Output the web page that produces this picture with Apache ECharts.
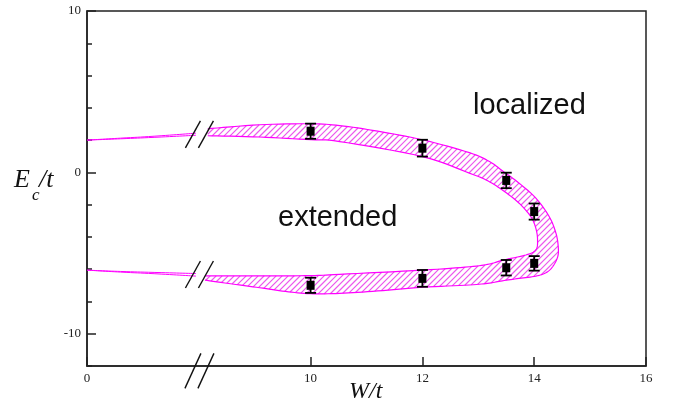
<!DOCTYPE html>
<html><head><meta charset="utf-8">
<script src="https://cdn.jsdelivr.net/npm/echarts@6/dist/echarts.min.js"></script>
<style>html,body{margin:0;padding:0;background:#fff}#c{width:673px;height:409px}</style>
</head><body><div id="c"></div>
<script>
// x axis is drawn in "display" units: the segment left of the break (0 ... break) is compressed
const xTickValues = [6, 10, 12, 14, 16];
const xTickLabels = ['0', '10', '12', '14', '16'];
const yTickValues = [-10, 0, 10];

// data points with error bars
const markerW = [10, 12, 13.5, 14];
const upperE = [2.55, 1.5, -0.5, -2.43];
const upperErr = [0.47, 0.52, 0.48, 0.5];
const lowerE = [-7.0, -6.57, -5.91, -5.64];
const lowerErr = [0.47, 0.52, 0.48, 0.45];

// hatched band: outer contour (upper-left -> tip -> lower-left)
const outerU = [8.16, 9.09, 10, 10.52, 11.2, 12, 12.84, 13.2, 13.43, 13.73, 14.03, 14.27, 14.39, 14.43, 14.42, 14.33, 14.21, 14.03, 13.73, 13.43, 13.2, 12.84, 12, 11.2, 10.52, 10, 9.55, 9.09, 8.6, 8.11];
const outerE = [2.7, 2.95, 3.01, 2.9, 2.55, 2.02, 1.22, 0.67, 0.1, -0.67, -1.6, -2.75, -3.78, -4.61, -5.23, -5.85, -6.22, -6.43, -6.57, -6.72, -6.86, -6.98, -7.12, -7.35, -7.5, -7.52, -7.38, -7.15, -6.92, -6.68];
// inner contour (lower-left -> inner tip -> upper-left)
const innerU = [8.11, 9.09, 10, 10.52, 12, 12.84, 13.2, 13.43, 13.85, 14.03, 14.06, 14.03, 13.94, 13.73, 13.43, 13.14, 12.84, 12, 10.52, 10, 9.09, 8.16];
const innerE = [-6.41, -6.41, -6.4, -6.32, -6.06, -5.85, -5.68, -5.45, -5.12, -4.81, -4.19, -3.47, -2.75, -1.91, -1.09, -0.47, -0.05, 0.98, 1.91, 2.02, 2.19, 2.27];

// curves left of the break
const leftU = [6, 6.6, 7.2, 7.95];
const leftUpperA = [2.0, 2.12, 2.24, 2.43];
const leftUpperB = [2.0, 2.08, 2.17, 2.3];
const leftLowerA = [-6.06, -6.14, -6.2, -6.27];
const leftLowerB = [-6.06, -6.18, -6.28, -6.43];

// break marks
const breakU = [8.02, 8.02, 8.02];
const breakE = [2.35, -6.33, -12.3];

const MAG = '#ff00ff';
const HATCH = 'rgb(236,90,236)';

// Catmull-Rom densification of a pixel polyline (open)
function densify(pts, n) {
  const out = [];
  for (let i = 0; i < pts.length - 1; i++) {
    const p0 = pts[Math.max(i - 1, 0)], p1 = pts[i], p2 = pts[i + 1], p3 = pts[Math.min(i + 2, pts.length - 1)];
    for (let j = 0; j < n; j++) {
      const t = j / n, t2 = t * t, t3 = t2 * t;
      const f = k => 0.5 * ((2 * p1[k]) + (-p0[k] + p2[k]) * t + (2 * p0[k] - 5 * p1[k] + 4 * p2[k] - p3[k]) * t2 + (-p0[k] + 3 * p1[k] - 3 * p2[k] + p3[k]) * t3);
      out.push([f(0), f(1)]);
    }
  }
  out.push(pts[pts.length - 1]);
  return out;
}

// diagonal hatch segments (lines x + y = k) clipped to a closed polygon, as one path string
function hatchPath(poly, step) {
  let kmin = Infinity, kmax = -Infinity;
  poly.forEach(p => { const s = p[0] + p[1]; kmin = Math.min(kmin, s); kmax = Math.max(kmax, s); });
  let d = '';
  for (let k = Math.ceil(kmin / step) * step; k <= kmax; k += step) {
    const xs = [];
    for (let i = 0; i < poly.length; i++) {
      const a = poly[i], b = poly[(i + 1) % poly.length];
      const fa = a[0] + a[1] - k, fb = b[0] + b[1] - k;
      if ((fa < 0) !== (fb < 0)) {
        const t = fa / (fa - fb);
        xs.push(a[0] + t * (b[0] - a[0]));
      }
    }
    xs.sort((p, q) => p - q);
    for (let i = 0; i + 1 < xs.length; i += 2) {
      d += 'M' + xs[i].toFixed(2) + ' ' + (k - xs[i]).toFixed(2) + 'L' + xs[i + 1].toFixed(2) + ' ' + (k - xs[i + 1]).toFixed(2);
    }
  }
  return d;
}

const chart = echarts.init(document.getElementById('c'), null, { renderer: 'canvas' });

const axisColor = '#222';
const labelFont = { fontFamily: 'Liberation Serif', fontSize: 13, color: '#222' };

const markerData = markerW.map((w, i) => [w, upperE[i], upperErr[i]])
  .concat(markerW.map((w, i) => [w, lowerE[i], lowerErr[i]]));

function lineData(xs, ys) { return xs.map((x, i) => [x, ys[i]]); }
function leftLine(ys) {
  return {
    type: 'line', data: lineData(leftU, ys), showSymbol: false, smooth: true,
    lineStyle: { color: MAG, width: 1 }, silent: true, z: 3
  };
}

chart.setOption({
  animation: false,
  grid: { left: 87, right: 27, top: 11, bottom: 43, show: true, borderColor: axisColor, borderWidth: 1.5, outerBoundsMode: 'none' },
  xAxis: {
    type: 'value', min: 6, max: 16,
    axisLine: { onZero: false, lineStyle: { color: axisColor, width: 1.5 } },
    axisTick: { inside: true, length: 9, customValues: xTickValues, lineStyle: { color: axisColor, width: 1.5 } },
    axisLabel: Object.assign({ customValues: xTickValues, margin: 6, showMinLabel: true, showMaxLabel: true,
      formatter: v => xTickLabels[xTickValues.indexOf(v)] }, labelFont),
    splitLine: { show: false }
  },
  yAxis: [{
    type: 'value', min: -12, max: 10,
    axisLine: { onZero: false, lineStyle: { color: axisColor, width: 1.5 } },
    axisTick: { inside: true, length: 9, customValues: yTickValues, lineStyle: { color: axisColor, width: 1.5 } },
    axisLabel: Object.assign({ customValues: yTickValues, margin: 6, showMinLabel: true, showMaxLabel: true }, labelFont),
    splitLine: { show: false }
  }, {
    type: 'value', min: -12, max: 10, interval: 2, position: 'left',
    axisLine: { show: false, onZero: false },
    axisTick: { inside: true, length: 5, lineStyle: { color: axisColor, width: 1.5 } },
    axisLabel: { show: false },
    splitLine: { show: false }
  }],
  series: [
    leftLine(leftUpperA), leftLine(leftUpperB), leftLine(leftLowerA), leftLine(leftLowerB),
    {
      type: 'custom', data: [[10, 0]], silent: true, z: 2,
      encode: { x: 0, y: 1 },
      renderItem: (params, api) => {
        const outer = densify(outerU.map((u, i) => api.coord([u, outerE[i]])), 8);
        const inner = densify(innerU.map((u, i) => api.coord([u, innerE[i]])), 8);
        const d = hatchPath(outer.concat(inner), 6);
        return {
          type: 'group', children: [
            { type: 'path', shape: { pathData: d }, style: { fill: 'none', stroke: HATCH, lineWidth: 1.2 } },
            { type: 'polyline', shape: { points: outer }, style: { fill: 'none', stroke: MAG, lineWidth: 1.2 } },
            { type: 'polyline', shape: { points: inner }, style: { fill: 'none', stroke: MAG, lineWidth: 1.2 } }
          ]
        };
      }
    },
    {
      type: 'custom', data: markerData, silent: true, z: 5,
      encode: { x: 0, y: 1 },
      renderItem: (params, api) => {
        const x = api.value(0), y = api.value(1), e = api.value(2);
        const c = api.coord([x, y]), t = api.coord([x, y + e]), b = api.coord([x, y - e]);
        const st = { stroke: '#000', lineWidth: 1.8 };
        return {
          type: 'group', children: [
            { type: 'line', shape: { x1: c[0], y1: t[1], x2: c[0], y2: b[1] }, style: st },
            { type: 'line', shape: { x1: c[0] - 5.5, y1: t[1], x2: c[0] + 5.5, y2: t[1] }, style: st },
            { type: 'line', shape: { x1: c[0] - 5.5, y1: b[1], x2: c[0] + 5.5, y2: b[1] }, style: st },
            { type: 'rect', shape: { x: c[0] - 4, y: c[1] - 4.5, width: 8, height: 9 }, style: { fill: '#000' } }
          ]
        };
      }
    },
    {
      type: 'custom', data: lineData(breakU, breakE), silent: true, z: 6, clip: false,
      encode: { x: 0, y: 1 },
      renderItem: (params, api) => {
        const c = api.coord([api.value(0), api.value(1)]);
        const h = params.dataIndex === 2 ? 17.5 : 13.5;
        const w = params.dataIndex === 2 ? 8 : 7.5;
        const st = { stroke: '#111', lineWidth: 1.4 };
        return {
          type: 'group', children: [
            { type: 'line', shape: { x1: c[0] - 7 - w, y1: c[1] + h, x2: c[0] - 7 + w, y2: c[1] - h }, style: st },
            { type: 'line', shape: { x1: c[0] + 6 - w, y1: c[1] + h, x2: c[0] + 6 + w, y2: c[1] - h }, style: st }
          ]
        };
      }
    }
  ],
  graphic: [
    { type: 'text', left: 278, top: 203, style: { text: 'extended', font: '29px "Liberation Sans"', fill: '#111' } },
    { type: 'text', left: 473, top: 91, style: { text: 'localized', font: '29px "Liberation Sans"', fill: '#111' } },
    { type: 'text', left: 349, top: 380, style: { text: 'W/t', font: 'italic 24px "Liberation Serif"', fill: '#111' } },
    { type: 'text', left: 14, top: 167, style: { text: 'E', font: 'italic 26px "Liberation Serif"', fill: '#111' } },
    { type: 'text', left: 32, top: 187, style: { text: 'c', font: 'italic 17px "Liberation Serif"', fill: '#111' } },
    { type: 'text', left: 39, top: 167, style: { text: '/t', font: 'italic 26px "Liberation Serif"', fill: '#111' } }
  ]
});
</script>
</body></html>
